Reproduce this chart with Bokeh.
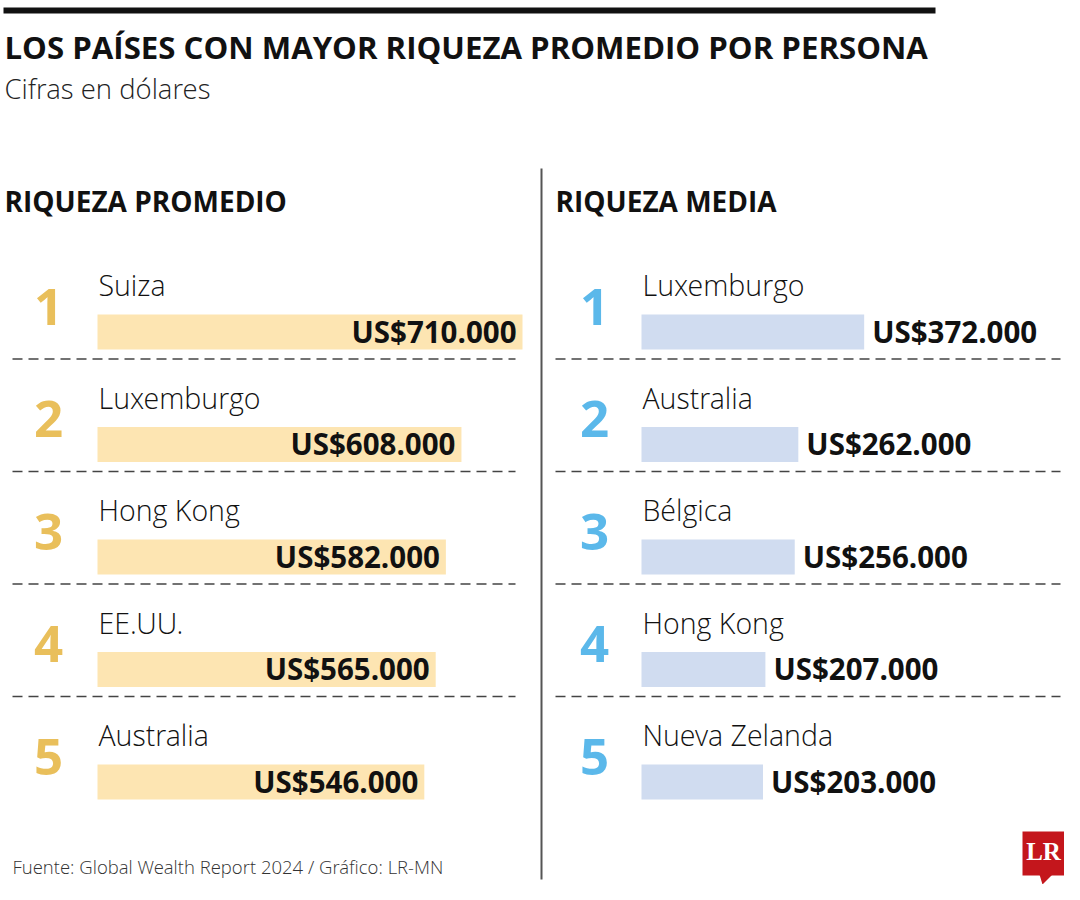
from bokeh.plotting import figure
from bokeh.models import Range1d, ColumnDataSource
from bokeh.core.properties import value
from bokeh.embed import file_html
from bokeh.resources import INLINE

# ---------------- data ----------------
TITLE = "LOS PAÍSES CON MAYOR RIQUEZA PROMEDIO POR PERSONA"
SUBTITLE = "Cifras en dólares"
FOOTER = "Fuente: Global Wealth Report 2024 / Gráfico: LR-MN"
left_heading = "RIQUEZA PROMEDIO"
right_heading = "RIQUEZA MEDIA"
ranks = [1, 2, 3, 4, 5]
left_countries = ["Suiza", "Luxemburgo", "Hong Kong", "EE.UU.", "Australia"]
left_values = [710, 608, 582, 565, 546]          # miles de US$
right_countries = ["Luxemburgo", "Australia", "Bélgica", "Hong Kong", "Nueva Zelanda"]
right_values = [372, 262, 256, 207, 203]         # miles de US$


def fmt(v):
    return f"US${v}.000"


# ---------------- layout ----------------
W, H = 1064, 884
FONT = value("Open Sans")
LIGHT = value("Open Sans Light, Open Sans")
PXK = 425 / 710            # pixels per thousand dollars
L0, R0 = 97, 641           # pixel position of value zero, left / right panel
ROW1, PITCH = 331.5, 112.5 # pixel centre of first row's bar, row pitch

p = figure(width=W, height=H, x_range=Range1d(0, W), y_range=Range1d(H, 0),
           output_backend="svg", toolbar_location=None, min_border=0,
           x_axis_type=None, y_axis_type=None, outline_line_color=None,
           background_fill_color="white", border_fill_color="white")
p.grid.visible = False
p.extra_x_ranges = {
    "vl": Range1d(-L0 / PXK, (W - L0) / PXK),
    "vr": Range1d(-R0 / PXK, (W - R0) / PXK),
}
p.extra_y_ranges = {"rows": Range1d(1 + (H - ROW1) / PITCH, 1 - ROW1 / PITCH)}

# header
p.quad(left=3, right=935, top=7, bottom=13, fill_color="#111111", line_color=None)
p.text(x=4, y=46, text=[TITLE], text_font=FONT, text_font_size="31.2px",
       text_font_style="bold", text_color="#111111", text_baseline="alphabetic")
p.text(x=4, y=88, text=[SUBTITLE], text_font=LIGHT, text_font_size="27.5px",
       text_color="#222222", text_baseline="alphabetic")

# section headings
p.text(x=[4, 555], y=[200, 200], text=[left_heading, right_heading], text_font=FONT,
       text_font_size="28px", text_font_style="bold", text_color="#111111",
       text_baseline="alphabetic")

# divider
p.segment(x0=541, x1=541, y0=168, y1=879, line_color="#555555", line_width=2)

# footer
p.text(x=12, y=866, text=[FOOTER], text_font=LIGHT, text_font_size="18.5px",
       text_color="#333333", text_baseline="alphabetic")

# logo
p.quad(left=1022, right=1064, top=831, bottom=875, fill_color="#C4161C", line_color=None)
p.patch(x=[1039, 1052, 1042], y=[874, 874, 884], fill_color="#C4161C", line_color=None)
p.text(x=1043, y=851, text=["LR"], text_font=value("Liberation Serif"),
       text_font_size="25px", text_font_style="bold", text_color="white",
       text_align="center", text_baseline="alphabetic")


def panel(countries, values, xr, bar_color, rank_color, rank_x, dash_x0, dash_x1, inside):
    src = ColumnDataSource(dict(
        rank=ranks, rank_str=[str(r) for r in ranks], country=countries,
        val=values, label=[fmt(v) for v in values],
    ))
    p.hbar(y="rank", left=0, right="val", height=35 / PITCH, source=src,
           x_range_name=xr, y_range_name="rows", fill_color=bar_color, line_color=None)
    p.text(x=0, y="rank", text="country", source=src, x_range_name=xr, y_range_name="rows",
           text_font=LIGHT, text_font_size="28.5px", text_color="#111111",
           text_baseline="alphabetic", x_offset=1, y_offset=-47)
    p.text(x=rank_x, y="rank", text="rank_str", source=src, y_range_name="rows",
           text_font=FONT, text_font_size="51px", text_font_style="bold",
           text_color=rank_color, text_align="center", text_baseline="alphabetic",
           y_offset=-25.5)
    p.text(x="val", y="rank", text="label", source=src, x_range_name=xr, y_range_name="rows",
           text_font=FONT, text_font_size="29.5px", text_font_style="bold",
           text_color="#111111", text_baseline="alphabetic",
           text_align="right" if inside else "left",
           x_offset=-6 if inside else 8, y_offset=-1)
    dsrc = ColumnDataSource(dict(y=[r + 27 / PITCH for r in ranks[:-1]]))
    p.segment(x0=dash_x0, x1=dash_x1, y0="y", y1="y", source=dsrc, y_range_name="rows",
              line_color="#444444", line_width=1.5, line_dash="10 6")


panel(left_countries, left_values, "vl", "#FDE5B2", "#E9BF5B", 48, 12, 515, True)
panel(right_countries, right_values, "vr", "#D0DCF0", "#5BB8EA", 594, 555, 1060, False)

open("out.html", "w").write(file_html(p, INLINE))
